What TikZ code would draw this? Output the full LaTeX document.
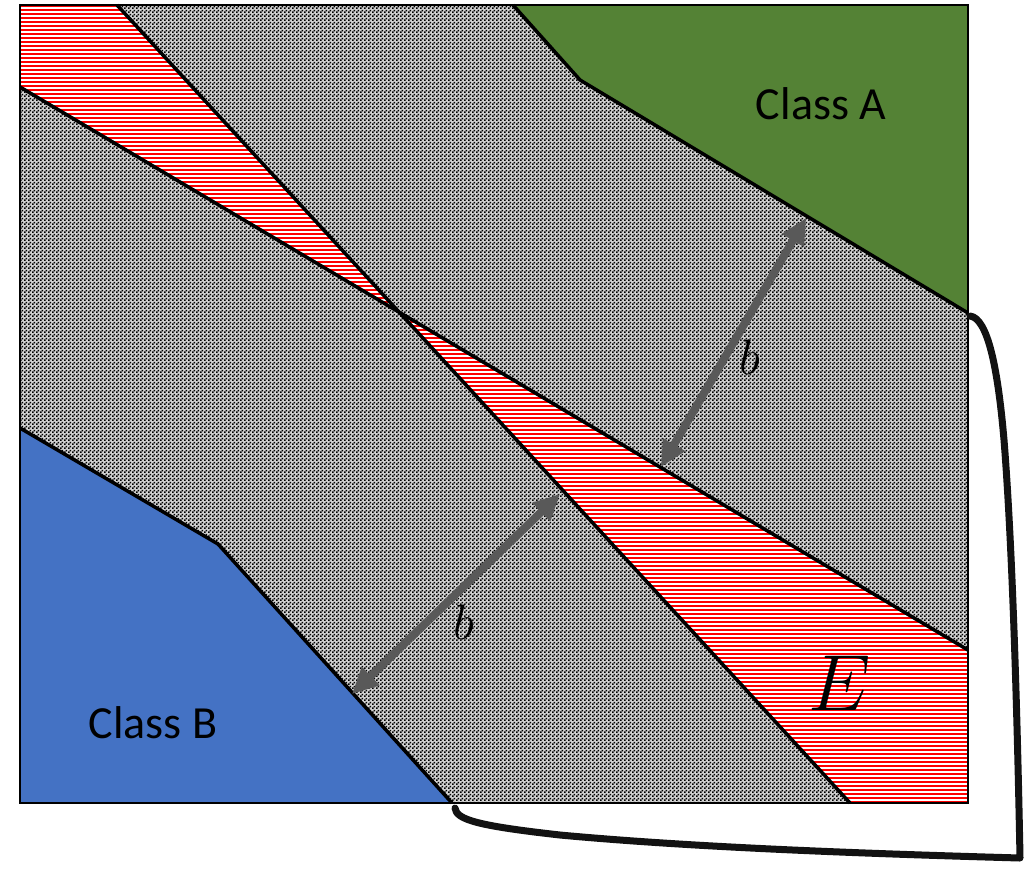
\documentclass[tikz,border=0pt]{standalone}
\usepackage{fontspec}
\setmainfont{Carlito}
\usetikzlibrary{patterns.meta,arrows.meta}
\definecolor{classA}{HTML}{548235}
\definecolor{classB}{HTML}{4472C4}
\definecolor{arrowgray}{HTML}{595959}
\tikzdeclarepattern{name=checker,type=uncolored,bottom left={(0pt,0pt)},top right={(4pt,4pt)},tile size={(4pt,4pt)},
  code={\fill (0pt,0pt) rectangle (2pt,2pt); \fill (2pt,2pt) rectangle (4pt,4pt);}}
\tikzset{
  boundary/.style={line width=3.5pt,line join=round},
  stripe/.style={red,line width=2.3pt},
  dblarrow/.style={arrowgray,line width=8pt,{Triangle[length=26pt,width=24pt]}-{Triangle[length=26pt,width=24pt]}},
  classlabel/.style={font=\fontsize{46}{50}\selectfont,text=black},
  marginlabel/.style={font=\fontsize{24.88}{28}\selectfont,scale=2},
  elabel/.style={font=\fontsize{24.88}{28}\selectfont,scale=3.2},
  bracket/.style={line width=7pt,line cap=round,line join=round,black!93}
}
\begin{document}
\begin{tikzpicture}[x=1pt,y=-1pt]
\useasboundingbox (0,0) rectangle (1027,868);
% corners
\coordinate (TL) at (20,5);
\coordinate (TR) at (968,5);
\coordinate (BR) at (968,803);
\coordinate (BL) at (20,803);
% separating lines
\coordinate (L1a) at (117,5);
\coordinate (L1b) at (850,803);
\coordinate (L2a) at (20,87);
\coordinate (L2b) at (968,650);
\coordinate (X) at (intersection of L1a--L1b and L2a--L2b);
% background
\fill[black!18] (TL) rectangle (BR);
\fill[pattern={checker},pattern color=black] (TL) rectangle (BR);
% red regions
\fill[white] (TL) -- (L1a) -- (X) -- (L2a) -- cycle;
\fill[white] (X) -- (L2b) -- (BR) -- (L1b) -- cycle;
\begin{scope}
  \clip (TL) -- (L1a) -- (X) -- (L2a) -- cycle;
  \foreach \yy in {6,10,...,330} \draw[stripe] (20,\yy) -- (420,\yy);
\end{scope}
\begin{scope}
  \clip (X) -- (L2b) -- (BR) -- (L1b) -- cycle;
  \foreach \yy in {302,306,...,806} \draw[stripe] (390,\yy) -- (970,\yy);
\end{scope}
% class A
\coordinate (A1) at (513,5);
\coordinate (A2) at (580,80);
\coordinate (A3) at (968,313);
\fill[classA] (A1) -- (A2) -- (A3) -- (TR) -- cycle;
\draw[boundary] (A1) -- (A2) -- (A3);
% class B
\coordinate (B1) at (20,428);
\coordinate (B2) at (218,544);
\coordinate (B3) at (452,803);
\fill[classB] (B1) -- (B2) -- (B3) -- (BL) -- cycle;
\draw[boundary] (B1) -- (B2) -- (B3);
% lines
\draw[boundary] (L1a) -- (L1b);
\draw[boundary] (L2a) -- (L2b);
% frame
\draw[line width=2.5pt] (TL) rectangle (BR);
% margin arrows
\coordinate (m1a) at (661,467);
\coordinate (m1b) at (806,218);
\coordinate (m2a) at (352,694);
\coordinate (m2b) at (560,494);
\draw[dblarrow] (m1a) -- (m1b);
\draw[dblarrow] (m2a) -- (m2b);
% labels
\node[classlabel] (ca) at (821,104) {Class A};
\node[classlabel] (cb) at (153,723) {Class B};
\node[marginlabel] (b1) at (750,357) {$b$};
\node[marginlabel] (b2) at (464,622) {$b$};
\node[elabel] (e) at (840,683) {$E$};
% bracket
\coordinate (k1) at (970,316);
\coordinate (k2) at (1020,858);
\coordinate (k3) at (455,808);
\draw[bracket] (k1) .. controls (988,318) and (998,370) .. (1004,440)
  .. controls (1012,540) and (1017,700) .. (k2)
  .. controls (880,854) and (700,848) .. (560,835)
  .. controls (480,826) and (456,820) .. (k3);
\end{tikzpicture}
\end{document}
